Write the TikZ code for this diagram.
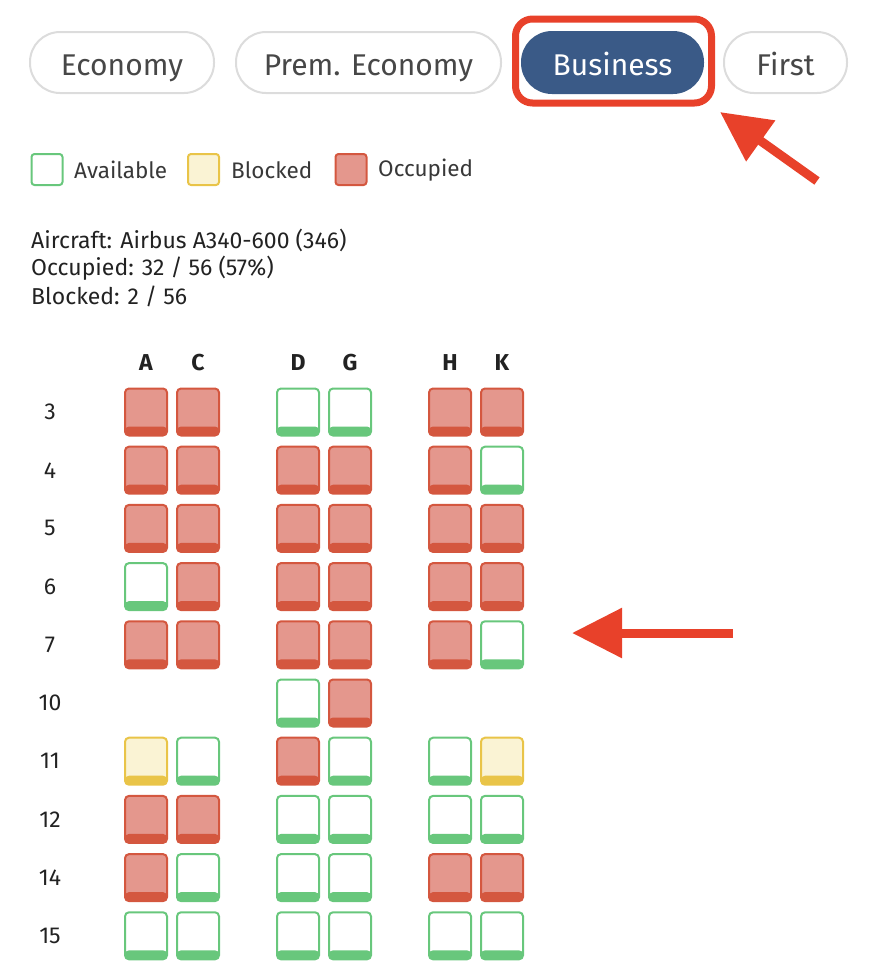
\documentclass[tikz,border=0pt]{standalone}
\usepackage{fontspec}
\setmainfont{Fira Sans}
\usepackage{xcolor}
\usetikzlibrary{arrows.meta, positioning}

\definecolor{occfill}{HTML}{E4978D}
\definecolor{occline}{HTML}{D4573F}
\definecolor{freeline}{HTML}{68C77C}
\definecolor{blkfill}{HTML}{FAF3D4}
\definecolor{blkline}{HTML}{E9C448}
\definecolor{navy}{HTML}{3A5A87}
\definecolor{pillline}{HTML}{DCDCDC}
\definecolor{pilltext}{HTML}{474747}
\definecolor{hlred}{HTML}{E8412A}
\definecolor{ink}{HTML}{222222}

\tikzset{
    pill/.style={draw=pillline, line width=2pt, rounded corners=30pt, minimum height=61pt,
        text=pilltext, text height=28pt, text depth=3pt, font=\fontsize{30}{32}\selectfont},
    seat/.style={rectangle, rounded corners=4pt, line width=2pt, minimum width=42pt,
        minimum height=47pt, inner sep=0pt},
    seatocc/.style={seat, draw=occline, fill=occfill, path picture={\fill[occline]
        (path picture bounding box.south west) rectangle ([yshift=9pt]path picture bounding box.south east);}},
    seatfree/.style={seat, draw=freeline, fill=white, path picture={\fill[freeline]
        (path picture bounding box.south west) rectangle ([yshift=9pt]path picture bounding box.south east);}},
    seatblk/.style={seat, draw=blkline, fill=blkfill, path picture={\fill[blkline]
        (path picture bounding box.south west) rectangle ([yshift=9pt]path picture bounding box.south east);}},
    keybox/.style={rectangle, rounded corners=3pt, line width=2pt, minimum size=31pt, inner sep=0pt},
    keytext/.style={anchor=west, inner sep=0pt, text=ink!90, font=\fontsize{22.5}{24}\selectfont},
    info/.style={anchor=west, inner sep=0pt, text=ink, font=\fontsize{23}{24}\selectfont},
    colhead/.style={text=ink, font=\fontsize{23}{24}\selectfont\bfseries},
    rowlbl/.style={text=ink, font=\fontsize{23}{24}\selectfont},
    arr/.style={hlred, line width=9pt, -{Triangle[length=50pt,width=48pt]}}
}

\begin{document}
\begin{tikzpicture}[x=1pt, y=1pt]
                        \useasboundingbox (0,0) rectangle (876,-975);

                        % cabin tabs
                        \node[pill, minimum width=184pt] (eco) at (122,-62.5) {Economy};
                        \node[pill, minimum width=265pt] (prem) at (368.5,-62.5) {Prem. Economy};
                        \node[pill, minimum width=181pt, fill=navy, draw=navy, text=white] (bus) at (612.5,-62.5) {Business};
                        \node[pill, minimum width=123pt] (first) at (785.5,-62.5) {First};
                        \node[draw=hlred, line width=7pt, rounded corners=17pt, minimum width=196pt, minimum height=84pt] (hl) at (613.5,-61) {};

                        % legend
                        \node[keybox, draw=freeline, fill=white] (kfree) at (47,-169.5) {};
                        \node[keytext] (tfree) at (74,-170) {Available};
                        \node[keybox, draw=blkline, fill=blkfill] (kblk) at (203.5,-169.5) {};
                        \node[keytext] (tblk) at (231,-170) {Blocked};
                        \node[keybox, draw=occline, fill=occfill] (kocc) at (351,-169.5) {};
                        \node[keytext] (tocc) at (378,-170) {Occupied};

                        % aircraft info
                        \node[info] (air) at (31,-240) {Aircraft: Airbus A340-600 (346)};
                        \node[info] (occ) at (31,-268) {Occupied: 32 / 56 (57\%)};
                        \node[info] (blk) at (31,-296) {Blocked: 2 / 56};

                        % seat map
                        \foreach \c/\x in {A/146,C/198,D/298,G/350,H/450,K/502}
                            \node[colhead] (h\c) at (\x,-363) {\c};
                        \foreach \r [count=\i from 0] in {3,4,5,6,7,10,11,12,14,15}
                            \node[rowlbl] (r\r) at (50,{-412-58.2*\i}) {\r};

                        \foreach \c/\s in {A/seatocc,C/seatocc,D/seatfree,G/seatfree,H/seatocc,K/seatocc}
                            \node[\s] (s3\c) at (h\c |- r3) {};
                        \foreach \c/\s in {A/seatocc,C/seatocc,D/seatocc,G/seatocc,H/seatocc,K/seatfree}
                            \node[\s] (s4\c) at (h\c |- r4) {};
                        \foreach \c/\s in {A/seatocc,C/seatocc,D/seatocc,G/seatocc,H/seatocc,K/seatocc}
                            \node[\s] (s5\c) at (h\c |- r5) {};
                        \foreach \c/\s in {A/seatfree,C/seatocc,D/seatocc,G/seatocc,H/seatocc,K/seatocc}
                            \node[\s] (s6\c) at (h\c |- r6) {};
                        \foreach \c/\s in {A/seatocc,C/seatocc,D/seatocc,G/seatocc,H/seatocc,K/seatfree}
                            \node[\s] (s7\c) at (h\c |- r7) {};
                        \foreach \c/\s in {D/seatfree,G/seatocc}
                            \node[\s] (s10\c) at (h\c |- r10) {};
                        \foreach \c/\s in {A/seatblk,C/seatfree,D/seatocc,G/seatfree,H/seatfree,K/seatblk}
                            \node[\s] (s11\c) at (h\c |- r11) {};
                        \foreach \c/\s in {A/seatocc,C/seatocc,D/seatfree,G/seatfree,H/seatfree,K/seatfree}
                            \node[\s] (s12\c) at (h\c |- r12) {};
                        \foreach \c/\s in {A/seatocc,C/seatfree,D/seatfree,G/seatfree,H/seatocc,K/seatocc}
                            \node[\s] (s14\c) at (h\c |- r14) {};
                        \foreach \c/\s in {A/seatfree,C/seatfree,D/seatfree,G/seatfree,H/seatfree,K/seatfree}
                            \node[\s] (s15\c) at (h\c |- r15) {};

                        % pointers
                        \coordinate (p1) at (817,-181);
                        \coordinate (p1tip) at (720,-112);
                        \coordinate (p2) at (733,-633);
                        \coordinate (p2tip) at (572,-633);
                        \draw[arr] (p1) -- (p1tip);
                        \draw[arr] (p2) -- (p2tip);
                    \end{tikzpicture}
\end{document}
